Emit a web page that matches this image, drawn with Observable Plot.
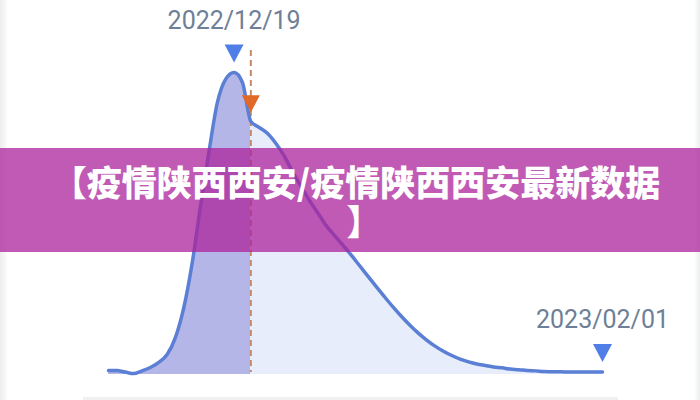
<!DOCTYPE html>
<html>
<head>
<meta charset="utf-8">
<script src="https://cdn.jsdelivr.net/npm/d3@7"></script>
<script src="https://cdn.jsdelivr.net/npm/@observablehq/plot@0.6"></script>
<style>
  body { margin: 0; background: #fff; }
  #wrap { position: relative; width: 700px; height: 400px; overflow: hidden; background: #fff; }
  #chart svg { display: block; }
  #edgeL { position: absolute; left: 0; top: 0; width: 7px; height: 400px; background: linear-gradient(to right, #eceeef, #fbfbfb); }
  #edgeR { position: absolute; left: 695px; top: 0; width: 5px; height: 400px; background: linear-gradient(to right, #fbfbfb, #eceeef); }
  #edgeB { position: absolute; left: 83px; top: 397px; width: 535px; height: 3px; background: #eef0f2; }
  #banner { position: absolute; left: 0; top: 148px; width: 700px; height: 104px; background: rgba(172, 35, 156, 0.75); }
  #title { position: absolute; left: 0; top: 161px; width: 712px; text-align: center; color: #fff;
           font-family: "Noto Sans CJK SC", "Noto Sans", sans-serif; font-weight: 900; font-size: 35px; line-height: 39px; }
  #title span { position: relative; left: 8px; }
</style>
</head>
<body>
<div id="wrap">
  <div id="edgeL"></div>
  <div id="edgeR"></div>
  <div id="edgeB"></div>
  <div id="chart"></div>
  <div id="banner"></div>
  <div id="title">【疫情陕西西安/疫情陕西西安最新数据<br><span>】</span></div>
</div>
<script>
// ---- data ----
const startDate = "2022-12-04";           // first day of the series
const values = [
  1.3, 1.3, 0.8, 0.3, 1.2, 2.3, 4.0, 6.6, 12.3, 22.2,
  37.0, 56.0, 73.8, 90.0, 97.8, 100, 96.7, 83.8, 81.8, 79.8,
  76.5, 72.3, 67.0, 62.3, 57.6, 53.5, 49.3, 46.0, 42.8, 39.5,
  36.0, 32.5, 29.0, 25.6, 22.3, 19.2, 16.3, 13.7, 11.4, 9.4,
  7.7, 6.3, 5.1, 4.2, 3.5, 3.0, 2.5, 2.2, 1.8, 1.6,
  1.3, 1.2, 1.0, 0.9, 0.9, 0.8, 0.8, 0.8, 0.8, 0.8
];
const peakDate = "2022-12-19";
const todayDate = "2022-12-21";
const endDate = "2023-02-01";
const labelDates = [peakDate, endDate];
const labelTexts = ["2022/12/19", "2023/02/01"];

// ---- build table ----
const start = new Date(startDate + "T00:00:00Z");
const data = values.map((v, i) => ({date: d3.utcDay.offset(start, i), v}));
const toDate = s => new Date(s + "T00:00:00Z");
const findRow = s => data.find(d => +d.date === +toDate(s));
const today = toDate(todayDate);
const leftData = data.filter(d => d.date <= today);
const rightData = data.filter(d => d.date >= today);
const labels = labelDates.map((s, i) => ({...findRow(s), text: labelTexts[i]}));
const todayRow = [findRow(todayDate)];

// inverted triangle with its tip at the anchor point
const triDown = {
  draw(context, size) {
    const r = Math.sqrt(size / Math.PI);
    context.moveTo(-r, -1.9 * r);
    context.lineTo(r, -1.9 * r);
    context.lineTo(0, 0);
    context.closePath();
  }
};

const chart = Plot.plot({
  width: 700,
  height: 400,
  marginTop: 50,
  marginBottom: 28,
  marginLeft: 0,
  marginRight: 0,
  x: {type: "utc", domain: [data[0].date, data[data.length - 1].date], range: [108, 602], axis: null},
  y: {domain: [0, 100], range: [374, 72], axis: null},
  marks: [
    Plot.areaY(leftData, {x: "date", y: "v", fill: "#b4b6e8", curve: "monotone-x"}),
    Plot.areaY(rightData, {x: "date", y: "v", fill: "#e7edfb", curve: "monotone-x"}),
    Plot.ruleX([today], {stroke: "#c98865", strokeWidth: 2, strokeDasharray: "6,4"}),
    Plot.lineY(data, {x: "date", y: "v", stroke: "#5a7fd4", strokeWidth: 3.5, curve: "monotone-x"}),
    Plot.dot(labels, {x: "date", y: "v", symbol: triDown, r: 9.5, fill: "#4f7fe6", stroke: null, dy: -10}),
    Plot.dot(todayRow, {x: "date", y: "v", symbol: triDown, r: 9, fill: "#e0692a", stroke: null, dy: -9}),
    Plot.text(labels, {x: "date", y: "v", text: "text", dy: -52, fontSize: 25, fontFamily: "Roboto",
      fill: "#6e7f97", textAnchor: "middle", lineAnchor: "middle"})
  ]
});
document.getElementById("chart").appendChild(chart);
</script>
</body>
</html>
